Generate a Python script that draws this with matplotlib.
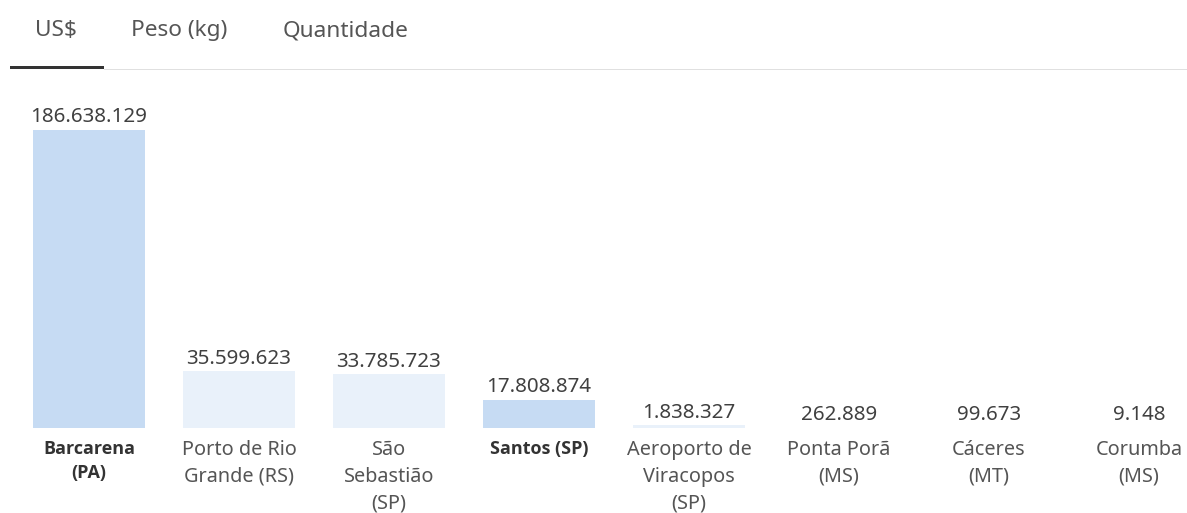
import matplotlib
matplotlib.use("Agg")
import matplotlib.pyplot as plt
from matplotlib.patches import Rectangle

plt.rcParams['font.family'] = ['Noto Sans', 'DejaVu Sans']

categories = ["Barcarena\n(PA)", "Porto de Rio\nGrande (RS)", "São\nSebastião\n(SP)", "Santos (SP)",
              "Aeroporto de\nViracopos\n(SP)", "Ponta Porã\n(MS)", "Cáceres\n(MT)", "Corumba\n(MS)"]
values = [186638129, 35599623, 33785723, 17808874, 1838327, 262889, 99673, 9148]
value_labels = ["186.638.129", "35.599.623", "33.785.723", "17.808.874", "1.838.327", "262.889", "99.673", "9.148"]
highlight = [True, False, False, True, False, False, False, False]
tabs = ["US$", "Peso (kg)", "Quantidade"]

W, H = 1187, 513
fig = plt.figure(figsize=(W / 100, H / 100), dpi=100)
fig.patch.set_facecolor("white")

def fx(px):
    return px / W

def fy(py):
    return 1 - py / H

# axes: bars bottom at y=428px, tallest top at y=130px
ax = fig.add_axes([0, fy(428), 1, (428 - 130) / H])
pitch = 150.0
c0 = 89.0
ax.set_xlim(-c0 / pitch, (W - c0) / pitch)
ax.set_ylim(0, max(values))
x = list(range(len(values)))
colors = ["#c6dbf3" if h else "#e9f1fa" for h in highlight]
bars = ax.bar(x, values, width=112 / pitch, color=colors, clip_on=False)

for xi, v, lab in zip(x, values, value_labels):
    ax.annotate(lab, (xi, v), xytext=(0, 7.5 * 0.72), textcoords="offset points",
                ha="center", va="baseline", fontsize=14.8, color="#404040", annotation_clip=False)

ax.set_xticks(x, categories)
ax.tick_params(axis="x", length=0, pad=8.5, labelsize=14.3, labelcolor="#555555")
for tl, h in zip(ax.get_xticklabels(), highlight):
    tl.set_linespacing(1.47)
    if h:
        tl.set_fontfamily(["Open Sans", "Lato", "DejaVu Sans"])
        tl.set_fontweight("bold")
        tl.set_color("#333333")
        tl.set_fontsize(13)
ax.set_yticks([])
for s in ax.spines.values():
    s.set_visible(False)
ax.patch.set_alpha(0)

# tabs
tab_x = [35, 131, 283]
for t, tx in zip(tabs, tab_x):
    fig.text(fx(tx), fy(36), t, ha="left", va="baseline", fontsize=16.3, color="#555555")

fig.add_artist(Rectangle((fx(104), fy(70)), fx(W - 104), 1.2 / H, transform=fig.transFigure,
                         color="#e0e0e0", lw=0))
fig.add_artist(Rectangle((fx(10), fy(69)), fx(94), 3 / H, transform=fig.transFigure,
                         color="#333333", lw=0))

fig.savefig("out.png", dpi=100, facecolor="white")
